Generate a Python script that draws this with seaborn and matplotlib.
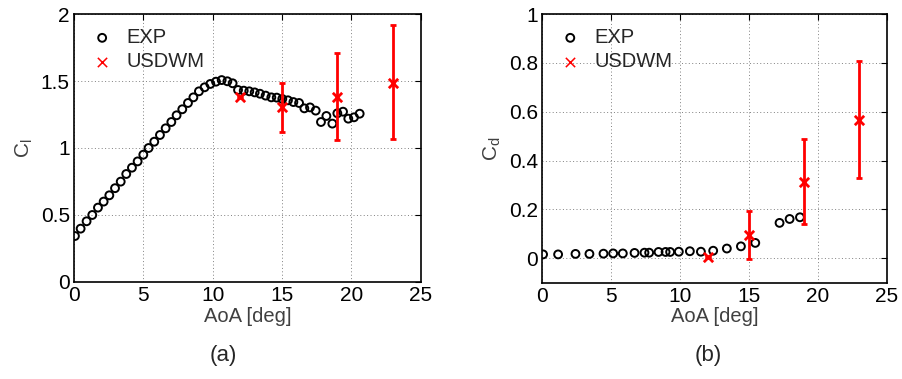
import matplotlib
matplotlib.use("Agg")
import matplotlib.pyplot as plt
import seaborn as sns
import pandas as pd
import numpy as np

sns.set_style("white")
plt.rcParams['font.family'] = ['Liberation Sans', 'DejaVu Sans']
plt.rcParams['mathtext.fontset'] = 'custom'
plt.rcParams['mathtext.rm'] = 'Liberation Sans'

# ---- data: lift ----
exp_cl_aoa = [0.07, 0.48, 0.91, 1.32, 1.73, 2.14, 2.55, 2.96, 3.37, 3.77, 4.18, 4.59, 5.0, 5.38,
              5.79, 6.2, 6.61, 7.02, 7.40, 7.81, 8.22, 8.61, 9.01, 9.42, 9.83, 10.24, 10.65,
              11.06, 11.44, 11.83, 12.24, 12.64, 13.03, 13.41, 13.82, 14.23, 14.62, 15.02,
              15.43, 15.82, 16.23, 16.61, 17.02, 17.43, 17.81, 18.2, 18.63, 18.99, 19.4,
              19.78, 20.19, 20.6]
exp_cl = [0.343, 0.398, 0.453, 0.50, 0.555, 0.60, 0.647, 0.70, 0.749, 0.806, 0.853, 0.90, 0.95,
          1.0, 1.047, 1.097, 1.147, 1.194, 1.244, 1.289, 1.336, 1.378, 1.423, 1.453, 1.478,
          1.495, 1.507, 1.498, 1.483, 1.433, 1.428, 1.423, 1.415, 1.405, 1.391, 1.378, 1.376,
          1.366, 1.356, 1.343, 1.336, 1.296, 1.303, 1.279, 1.194, 1.239, 1.182, 1.259, 1.271,
          1.219, 1.229, 1.256]
sim_aoa = [12, 15, 19, 23]
sim_cl = [1.378, 1.303, 1.383, 1.488]
sim_cl_lo = [1.378, 1.119, 1.060, 1.065]
sim_cl_hi = [1.378, 1.483, 1.711, 1.920]

# ---- data: drag ----
exp_cd_aoa = [0.07, 1.16, 2.42, 3.43, 4.45, 5.15, 5.85, 6.70, 7.42, 7.76, 8.44, 8.95, 9.28,
              9.91, 10.71, 11.51, 12.4, 13.39, 14.41, 15.45, 17.21, 17.94, 18.69]
exp_cd = [0.016, 0.016, 0.018, 0.018, 0.019, 0.020, 0.020, 0.022, 0.023, 0.023, 0.026, 0.026,
          0.026, 0.027, 0.029, 0.027, 0.031, 0.040, 0.049, 0.063, 0.145, 0.161, 0.168]
sim_cd = [0.007, 0.095, 0.312, 0.565]
sim_cd_lo = [0.007, -0.004, 0.139, 0.329]
sim_cd_hi = [0.007, 0.194, 0.487, 0.808]

fig = plt.figure(figsize=(9.02, 3.79), dpi=100)
ax1 = fig.add_axes([0.082, 0.256, 0.3844, 0.707])
ax2 = fig.add_axes([0.601, 0.254, 0.3824, 0.709])

gray = '#404040'

def draw(ax, ex, ey, sy, lo, hi, ylim, yticks, ylabel):
    df = pd.DataFrame({'AoA': ex, 'val': ey})
    ax.grid(True, linestyle=(0, (1, 2.5)), color='#808080', linewidth=0.7)
    ax.set_axisbelow(True)
    sns.scatterplot(data=df, x='AoA', y='val', ax=ax, marker='o', s=32,
                    facecolor='none', edgecolor='black', linewidth=1.4, label='EXP', zorder=3)
    sy = np.array(sy); lo = np.array(lo); hi = np.array(hi)
    ax.errorbar(sim_aoa, sy, yerr=[sy - lo, hi - sy], fmt='none', ecolor='red',
                elinewidth=2, capsize=2.5, capthick=2, zorder=4)
    ax.scatter(sim_aoa, sy, marker='x', color='red', s=45, linewidths=2, zorder=5)
    ax.scatter([], [], marker='x', color='red', s=45, linewidths=1.1, label='USDWM')
    ax.set_xlim(0, 25)
    ax.set_ylim(*ylim)
    ax.set_xticks([0, 5, 10, 15, 20, 25])
    ax.set_yticks(yticks)
    ax.set_yticklabels([('%g' % t) for t in yticks])
    ax.tick_params(direction='in', top=True, right=True, labelsize=15, length=4, pad=3,
                   colors='black', labelcolor='black')
    for s in ax.spines.values():
        s.set_color('black')
        s.set_linewidth(1.2)
    ax.set_xlabel('AoA [deg]', fontsize=14.5, color=gray, labelpad=1)
    ax.set_ylabel(ylabel, fontsize=15, color=gray, labelpad=4)
    ax.legend(loc='upper left', frameon=False, fontsize=14.5, handletextpad=0.5,
              borderaxespad=0.3, labelspacing=0.25, handlelength=1.4)

draw(ax1, exp_cl_aoa, exp_cl, sim_cl, sim_cl_lo, sim_cl_hi, (0, 2),
     [0, 0.5, 1, 1.5, 2], r'C$_\mathrm{l}$')
draw(ax2, exp_cd_aoa, exp_cd, sim_cd, sim_cd_lo, sim_cd_hi, (-0.1, 1),
     [0, 0.2, 0.4, 0.6, 0.8, 1], r'C$_\mathrm{d}$')

fig.text(0.248, 0.063, '(a)', fontsize=16, ha='center', va='center')
fig.text(0.785, 0.063, '(b)', fontsize=16, ha='center', va='center')

fig.savefig('out.png', dpi=100)
